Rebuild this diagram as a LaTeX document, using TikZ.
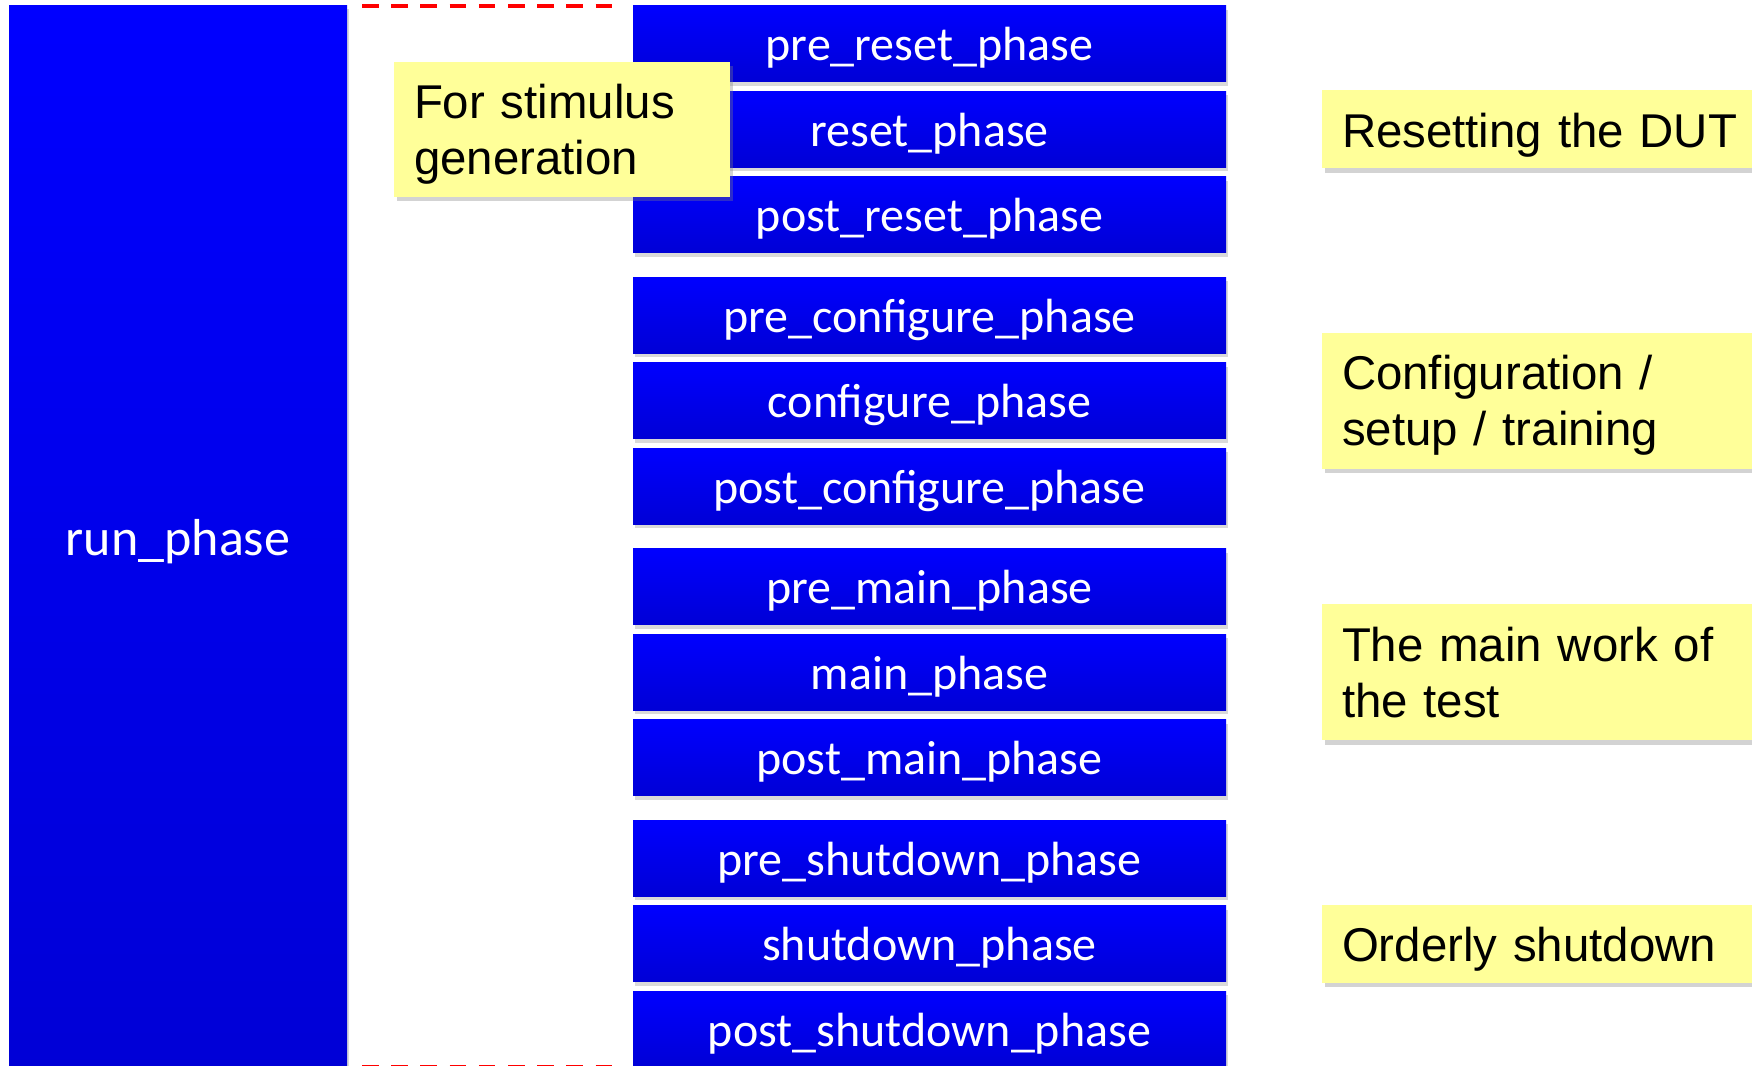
\documentclass[tikz,border=0pt]{standalone}
\usepackage{fontspec}
\setmainfont{Liberation Sans}
\newfontfamily\phasefont{Carlito}
\usetikzlibrary{positioning,shadows}
\definecolor{uvmblue}{RGB}{0,0,255}
\definecolor{uvmdark}{RGB}{0,0,214}
\definecolor{note}{RGB}{255,255,153}
\definecolor{marker}{RGB}{255,0,0}

\begin{document}
\begin{tikzpicture}[x=0.5pt,y=-0.5pt,
  phase/.style={top color=uvmblue,bottom color=uvmdark,text=white,inner sep=0pt,outer sep=0pt,
    minimum width=296.5pt,minimum height=38pt,text height=17pt,text depth=0pt,
    font=\phasefont\fontsize{24}{28}\selectfont,
    drop shadow={shadow xshift=1.2pt,shadow yshift=-2pt,opacity=0.3}},
  runbox/.style={phase,minimum width=169pt,minimum height=533pt,font=\phasefont\fontsize{26}{30}\selectfont},
  memo/.style={fill=note,align=left,inner xsep=10pt,inner ysep=0pt,outer sep=0pt,text width=205pt,
    minimum height=39pt,text height=18pt,text depth=0pt,font=\fontsize{23.7}{28}\selectfont,
    drop shadow={shadow xshift=1.5pt,shadow yshift=-2.2pt,opacity=0.35}},
  memotwo/.style={memo,minimum height=68pt,text depth=28.8pt},
  marker/.style={draw=marker,line width=2pt,dash pattern=on 8.3pt off 6.3pt}
]
\useasboundingbox (0,0) rectangle (1752,1066);
\node[runbox,anchor=north west] (run) at (9,5) {run\_phase};
% reset group
\node[phase,anchor=north west] (prereset) at (633,5.6) {pre\_reset\_phase};
\node[phase,below=4.75pt of prereset] (reset) {reset\_phase};
\node[phase,below=4.75pt of reset] (postreset) {post\_reset\_phase};
% configure group
\node[phase,below=12.25pt of postreset] (preconf) {pre\_configure\_phase};
\node[phase,below=4.75pt of preconf] (conf) {configure\_phase};
\node[phase,below=4.75pt of conf] (postconf) {post\_configure\_phase};
% main group
\node[phase,below=12.25pt of postconf] (premain) {pre\_main\_phase};
\node[phase,below=4.75pt of premain] (main) {main\_phase};
\node[phase,below=4.75pt of main] (postmain) {post\_main\_phase};
% shutdown group
\node[phase,below=12.25pt of postmain] (preshut) {pre\_shutdown\_phase};
\node[phase,below=4.75pt of preshut] (shut) {shutdown\_phase};
\node[phase,below=4.75pt of shut] (postshut) {post\_shutdown\_phase};
% notes
\node[memo,right=48pt of reset] (nreset) {Resetting the DUT};
\node[memotwo,right=48pt of conf] (nconf) {Configuration /\\setup / training};
\node[memotwo,right=48pt of main] (nmain) {The main work of\\the test};
\node[memo,right=48pt of shut] (nshut) {Orderly shutdown};
\node[memotwo,text width=148pt,minimum height=67.5pt,anchor=west] (stim) at (394,129.5) {For stimulus\\generation};
% stimulus markers
\coordinate (topL) at (362,6);
\coordinate (topR) at (614,6);
\coordinate (botL) at (362,1067);
\coordinate (botR) at (614,1067);
\draw[marker] (topL) -- (topR);
\draw[marker] (botL) -- (botR);
\end{tikzpicture}
\end{document}
